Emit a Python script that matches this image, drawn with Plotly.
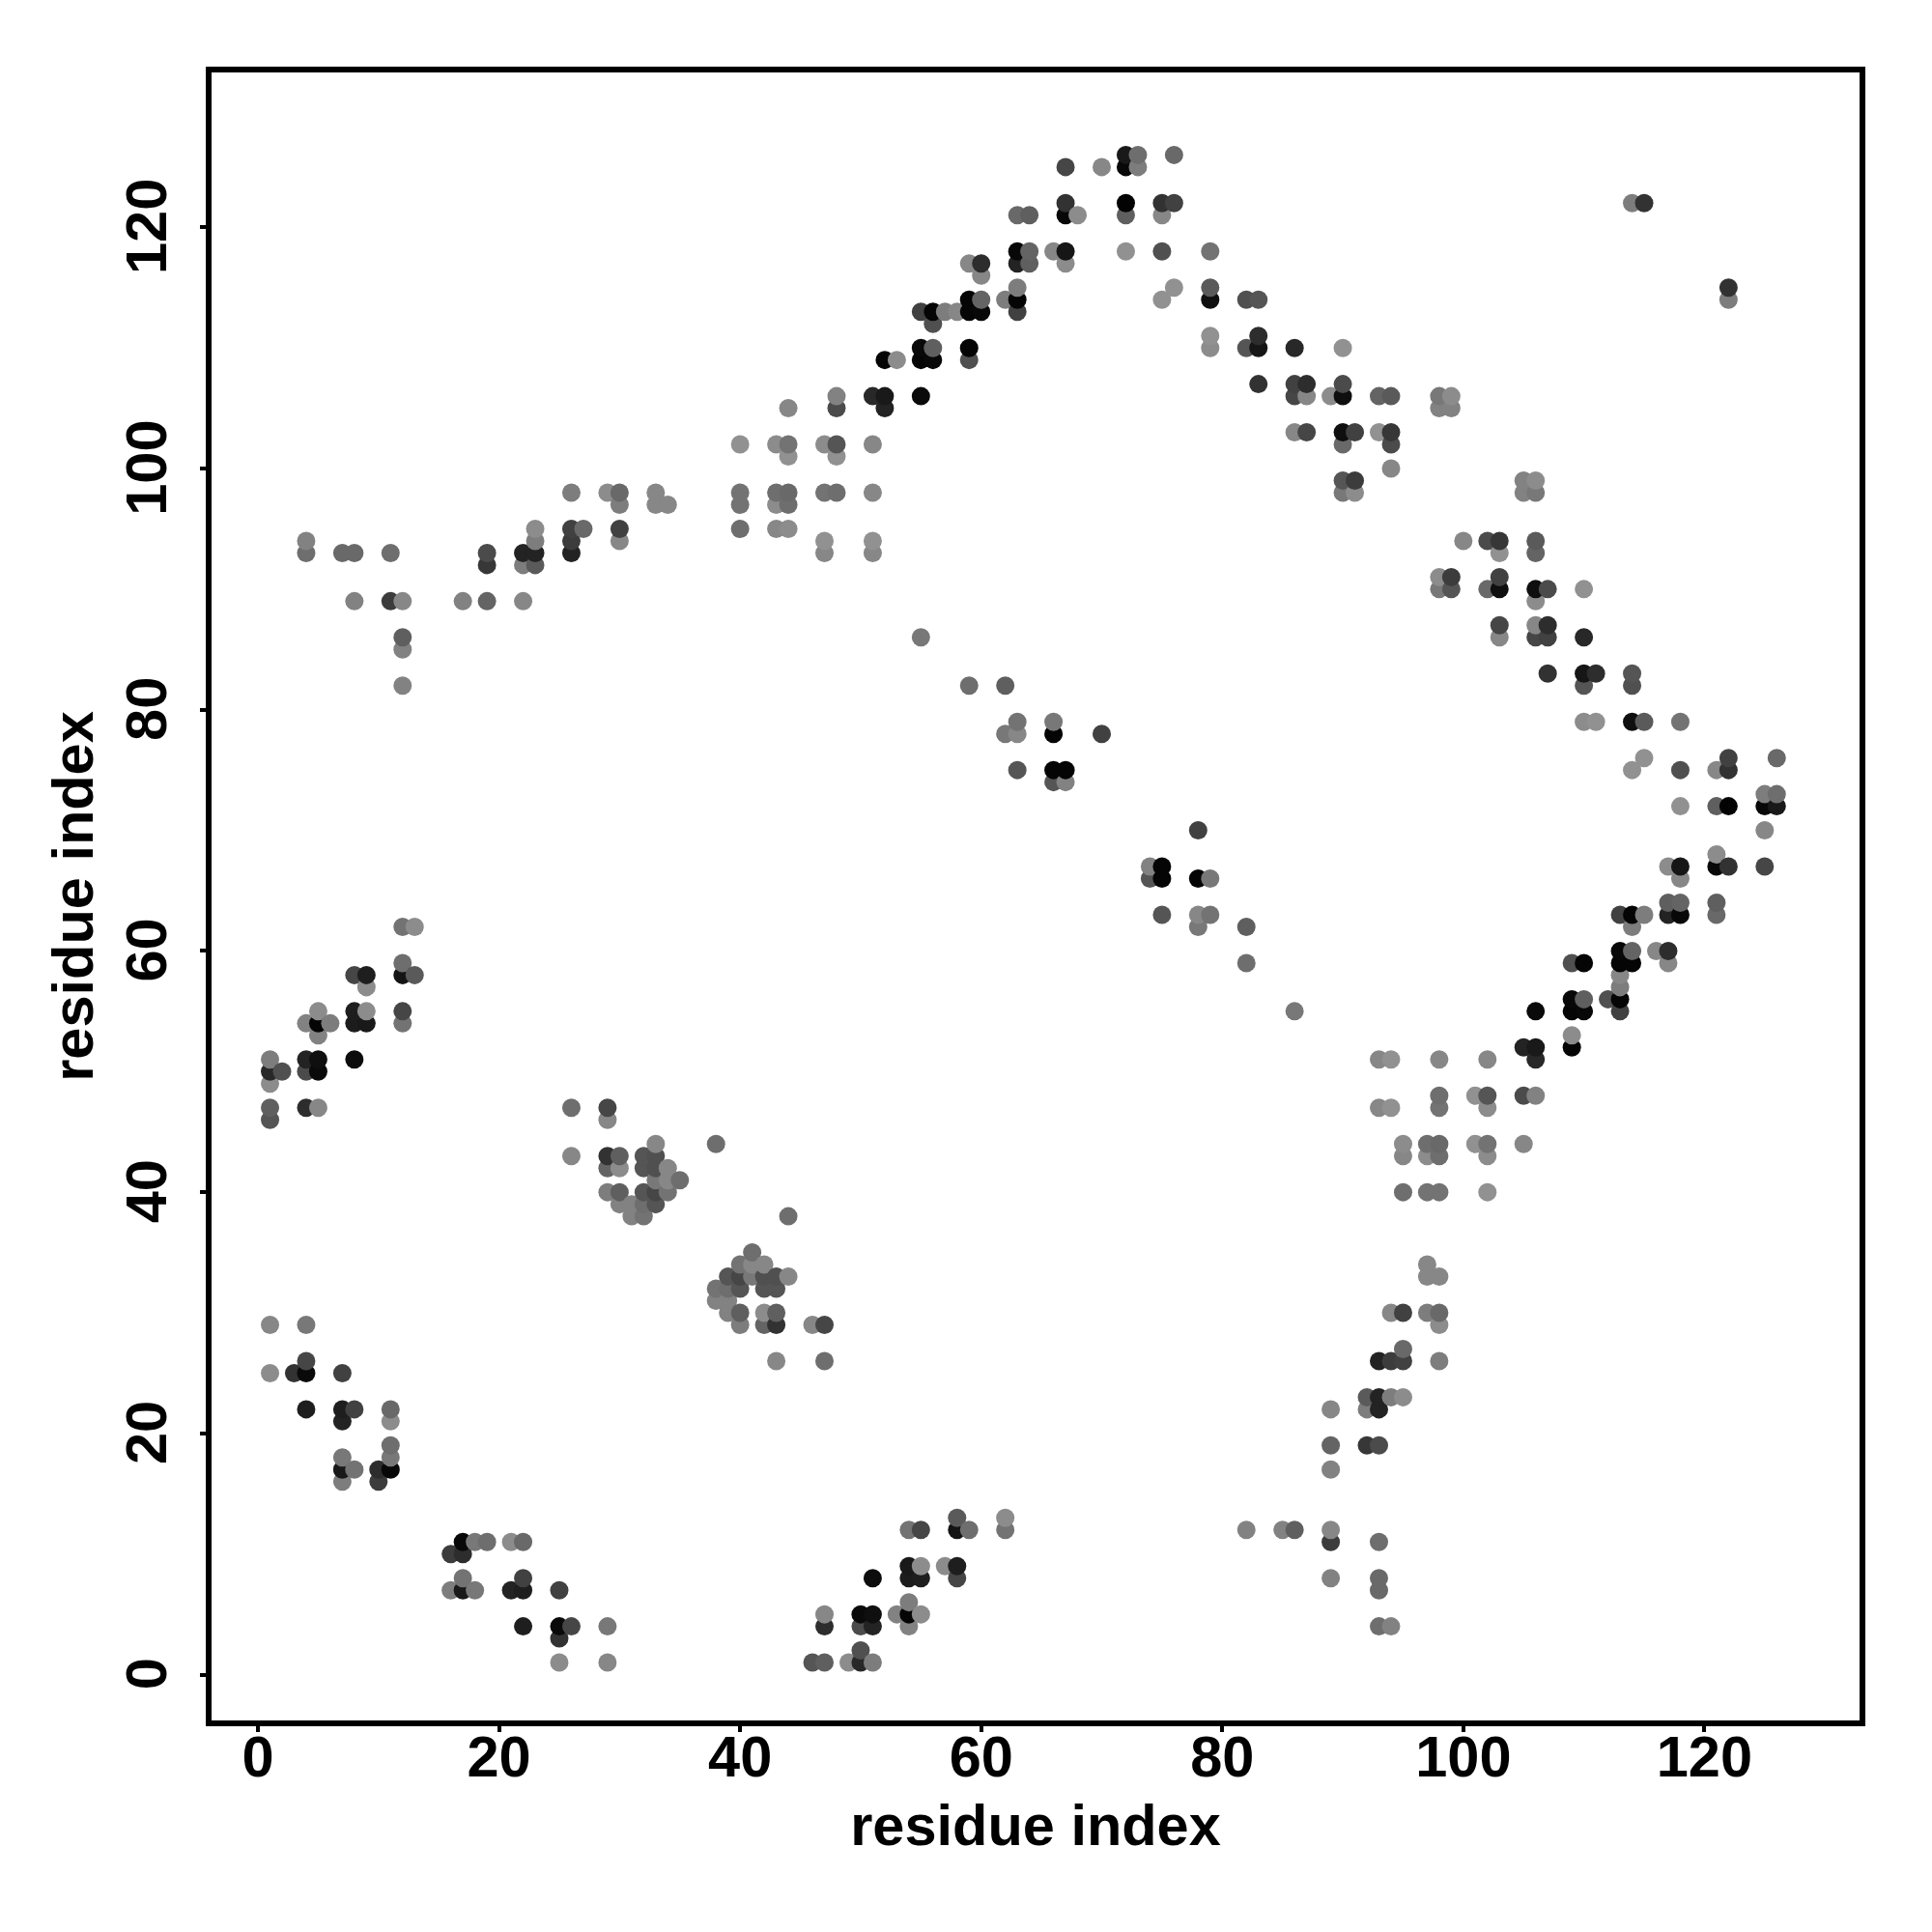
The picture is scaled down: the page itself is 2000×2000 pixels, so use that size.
import plotly.graph_objects as go

# Contact map: residue pairs (i < j) with their grey level; the map is symmetric.
pair_i = [1]*7 + [2] + [3] + [4]*10 + [5]*6 + [6] + [7]*7 + [8]*8 + [9]*4 + [10]*2 + [11]*7 + [12]*9 + [13]*2 \
    + [17] + [19]*3 + [22]*3 + [23]*4 + [26]*6 + [27] + [29]*6 + [30]*8 + [31]*2 + [32]*5 + [33]*8 + [34]*4 + [35] \
    + [38] + [40]*4 + [43]*4 + [44]*6 + [47]*4 + [48]*5 + [51]*5 + [52]*3 + [53] + [55]*5 + [56]*4 + [57] + [58] \
    + [59]*6 + [60]*4 + [62]*3 + [63]*9 + [64]*3 + [66]*5 + [67]*7 + [68] + [70]*2 + [72]*5 + [73]*2 + [75]*4 \
    + [76]*3 + [79]*5 + [82]*2 + [83]*4 + [86]*4 + [87]*3 + [89] + [90]*7 + [91]*3 + [93]*2 + [94]*4 + [98]*2 \
    + [99]*2 + [114] + [115]

pair_j = [
    25, 29, 46, 47, 49, 50, 51,
    50,
    25,
    22, 25, 26, 29, 47, 50, 51, 54, 93, 94,
    47, 50, 51, 53, 54, 55,
    54,
    16, 17, 18, 21, 22, 25, 93,
    17, 22, 51, 54, 55, 58, 89, 93,
    54, 55, 57, 58,
    16, 17,
    17, 18, 19, 21, 22, 89, 93,
    54, 55, 58, 59, 62, 82, 85, 86, 89,
    58, 62,
    89,
    89, 92, 93,
    89, 92, 93,
    92, 93, 94, 95,
    43, 47, 93, 94, 95, 98,
    95,
    40, 42, 43, 46, 47, 98,
    39, 40, 42, 43, 94, 95, 97, 98,
    38, 39,
    38, 39, 40, 42, 43,
    39, 40, 41, 42, 43, 44, 97, 98,
    40, 41, 42, 97,
    41,
    44,
    95, 97, 98, 102,
    95, 97, 98, 102,
    95, 97, 98, 101, 102, 105,
    93, 94, 98, 102,
    98, 101, 102, 105, 106,
    93, 94, 98, 102, 106,
    105, 106, 109,
    109,
    86, 106, 109, 110, 113,
    109, 110, 112, 113,
    113,
    113,
    82, 109, 110, 113, 114, 117,
    113, 114, 116, 117,
    78, 82, 114,
    75, 78, 79, 113, 114, 115, 117, 118, 121,
    117, 118, 121,
    74, 75, 78, 79, 118,
    74, 75, 117, 118, 121, 122, 125,
    121,
    78, 125,
    118, 121, 122, 125, 126,
    125, 126,
    114, 118, 121, 122,
    115, 122, 126,
    110, 111, 114, 115, 118,
    110, 114,
    107, 110, 111, 114,
    103, 106, 107, 110,
    103, 106, 107,
    106,
    98, 99, 102, 103, 106, 107, 110,
    98, 99, 103,
    103, 106,
    100, 102, 103, 106,
    105, 106,
    105, 106,
    122,
    122,
]

pair_grey = [
    140, 135, 85, 95, 140, 40, 125,
    80,
    50,
    30, 10, 70, 120, 45, 75, 35, 130, 110, 130,
    135, 10, 15, 130, 5, 140,
    125,
    125, 25, 120, 35, 30, 65, 105,
    115, 65, 12, 28, 30, 70, 130, 105,
    25, 140, 140, 30,
    60, 45,
    8, 120, 110, 140, 105, 60, 110,
    115, 70, 20, 110, 115, 130, 130, 95, 135,
    90, 140,
    130,
    100, 55, 75,
    135, 125, 35,
    90, 35, 125, 140,
    135, 110, 35, 60, 65, 125,
    105,
    125, 100, 50, 135, 70, 140,
    130, 95, 140, 95, 135, 65, 125, 105,
    130, 130,
    115, 110, 85, 85, 85,
    85, 70, 120, 80, 80, 135, 135, 135,
    115, 135, 135, 135,
    110,
    110,
    110, 115, 115, 145,
    135, 140, 110, 140,
    140, 110, 105, 145, 115, 135,
    135, 145, 115, 140,
    110, 145, 85, 75, 130,
    135, 145, 135, 135, 40,
    35, 25, 5,
    140,
    120, 10, 5, 8, 65,
    8, 95, 80, 5,
    125,
    135,
    110, 80, 5, 5, 5, 135,
    8, 100, 135, 45,
    120, 95, 125,
    85, 135, 115, 65, 5, 125, 35, 8, 105,
    95, 100, 95,
    85, 5, 5, 120, 135,
    130, 5, 140, 22, 8, 50, 70,
    140,
    65, 135,
    145, 95, 3, 8, 25,
    125, 110,
    145, 80, 135, 50,
    145, 65, 105,
    140, 145, 15, 90, 115,
    85, 80,
    50, 22, 45, 85,
    135, 70, 65, 40,
    70, 135, 45,
    140,
    120, 85, 105, 15, 15, 75, 145,
    140, 60, 65,
    145, 100,
    135, 75, 55, 90,
    130, 120,
    130, 140,
    125,
    50,
]

tick_values = [0, 20, 40, 60, 80, 100, 120]
axis_label = "residue index"

# Both halves of the map, drawn in column order so that overlaps stack as in the source
points = sorted(
    [(a, b, g) for a, b, g in zip(pair_i, pair_j, pair_grey)]
    + [(b, a, g) for a, b, g in zip(pair_i, pair_j, pair_grey)]
)

fig = go.Figure(go.Scatter(
    x=[p[0] for p in points],
    y=[p[1] for p in points],
    mode="markers",
    marker=dict(size=19, color=[f"rgb({p[2]},{p[2]},{p[2]})" for p in points], line=dict(width=0)),
    hoverinfo="x+y",
))

FONT = "Liberation Sans"
title_font = dict(family=FONT, size=59.5, color="black", weight="bold")
axis_common = dict(
    tickmode="array", tickvals=tick_values, ticktext=[str(t) for t in tick_values],
    showgrid=False, zeroline=False, showline=True, mirror=True,
    linecolor="black", linewidth=6,
    ticks="outside", ticklen=6, tickwidth=3.5, tickcolor="black",
    tickfont=dict(family=FONT, size=59.5, color="black", weight="bold"),
)
fig.update_xaxes(range=[-3.85, 132.87], tickangle=0, ticklabelstandoff=-25,
                 title=dict(text=axis_label, standoff=18.5, font=title_font),
                 **axis_common)
fig.update_yaxes(range=[-3.8, 132.84], tickangle=-90, ticklabelstandoff=11, ticklabelshift=8,
                 title=dict(text=axis_label, standoff=4, font=title_font),
                 **axis_common)
fig.update_layout(
    width=2000, height=2000, showlegend=False,
    paper_bgcolor="white", plot_bgcolor="white",
    margin=dict(l=211, r=82.7, t=67, b=227, autoexpand=False),
)
fig.write_html("out.html")
